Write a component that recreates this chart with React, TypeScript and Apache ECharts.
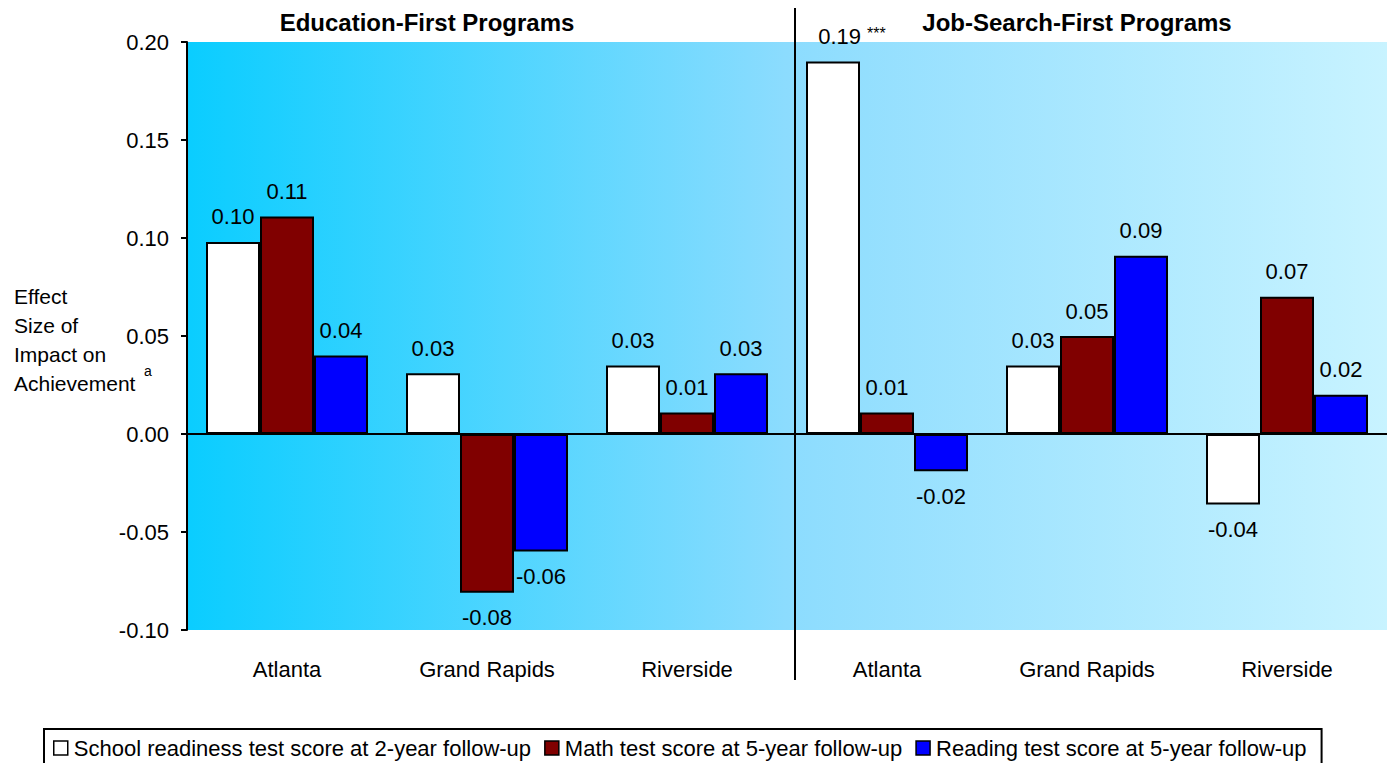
import React, { useEffect, useRef } from "react";
import * as echarts from "echarts";

const categories = ["Atlanta", "Grand Rapids", "Riverside", "Atlanta", "Grand Rapids", "Riverside"];
const seriesNames = [
  "School readiness test score at 2-year follow-up",
  "Math test score at 5-year follow-up",
  "Reading test score at 5-year follow-up",
];
const schoolReadiness = [0.098, 0.031, 0.035, 0.19, 0.035, -0.036];
const mathScores = [0.111, -0.081, 0.011, 0.011, 0.05, 0.07];
const readingScores = [0.04, -0.06, 0.031, -0.019, 0.091, 0.02];
const schoolLabels = ["0.10", "0.03", "0.03", "0.19", "0.03", "-0.04"];
const mathLabels = ["0.11", "-0.08", "0.01", "0.01", "0.05", "0.07"];
const readingLabels = ["0.04", "-0.06", "0.03", "-0.02", "0.09", "0.02"];
const yTicks = { min: -0.1, max: 0.2, interval: 0.05 };
const panelTitles = ["Education-First Programs", "Job-Search-First Programs"];
const yAxisTitle = "Effect\nSize of\nImpact on\nAchievement";

const FONT = "'Liberation Sans', Arial, sans-serif";
const FS = 22;

function buildData(values: number[], labels: string[], stars?: number) {
  return values.map((v, i) => {
    const isStar = stars === i;
    return {
      value: v,
      label: {
        position: v >= 0 ? "top" : "bottom",
        formatter: isStar ? `{n|${labels[i]}} {s|***}` : labels[i],
        offset: isStar ? [19, 0] : [0, 0],
      },
    };
  });
}

export default function App() {
  const ref = useRef<HTMLDivElement>(null);
  useEffect(() => {
    if (!ref.current) return;
    const chart = echarts.init(ref.current, null, { renderer: "svg" });
    const colors = ["#ffffff", "#800000", "#0000ff"];
    const datasets = [
      buildData(schoolReadiness, schoolLabels, 3),
      buildData(mathScores, mathLabels),
      buildData(readingScores, readingLabels),
    ];
    const series: any[] = datasets.map((d, k) => ({
      name: seriesNames[k],
      type: "bar",
      data: d,
      barGap: "0%",
      barCategoryGap: "19%",
      itemStyle: { color: colors[k], borderColor: "#000", borderWidth: 2 },
      label: {
        show: true,
        distance: 14,
        color: "#000",
        fontSize: FS,
        fontFamily: FONT,
        rich: {
          n: { fontSize: FS, fontFamily: FONT, color: "#000" },
          s: { fontSize: 16, fontFamily: FONT, color: "#000", padding: [0, 0, 6, 0] },
        },
      },
      markLine:
        k === 0
          ? {
              silent: true,
              symbol: "none",
              label: { show: false },
              lineStyle: { color: "#000", width: 2, type: "solid" },
              data: [{ yAxis: 0 }],
            }
          : undefined,
    }));

    chart.setOption({
      animation: false,
      backgroundColor: "#ffffff",
      grid: {
        left: 187,
        right: 4,
        top: 42,
        bottom: 133,
        show: true,
        borderWidth: 0,
        backgroundColor: new echarts.graphic.LinearGradient(0, 0, 1, 0, [
          { offset: 0, color: "#0acdff" },
          { offset: 0.5, color: "#8cdcfe" },
          { offset: 1, color: "#c8f3ff" },
        ]),
      },
      legend: {
        data: seriesNames,
        left: 44,
        top: 729,
        padding: [8, 15, 22, 9],
        itemGap: 13,
        itemWidth: 14,
        itemHeight: 14,
        icon: "rect",
        borderColor: "#000",
        borderWidth: 2,
        textStyle: { fontSize: FS, fontFamily: FONT, color: "#000", padding: [0, 0, 0, 1] },
        itemStyle: { borderColor: "#000", borderWidth: 1.5 },
      },
      xAxis: {
        type: "category",
        data: categories,
        position: "bottom",
        axisLine: { show: false, onZero: false },
        axisTick: { show: false },
        axisLabel: { color: "#000", fontSize: FS, fontFamily: FONT, margin: 28 },
      },
      yAxis: {
        type: "value",
        min: yTicks.min,
        max: yTicks.max,
        interval: yTicks.interval,
        splitLine: { show: false },
        axisLine: { show: true, lineStyle: { color: "#000", width: 2 } },
        axisTick: { show: true, length: 6, lineStyle: { color: "#000", width: 2 } },
        axisLabel: {
          color: "#000",
          fontSize: FS,
          fontFamily: FONT,
          margin: 18,
          formatter: (v: number) => v.toFixed(2),
        },
      },
      series,
      graphic: [
        {
          type: "line",
          shape: { x1: 795, y1: 8, x2: 795, y2: 680 },
          style: { stroke: "#000", lineWidth: 2 },
          z: 100,
        },
        {
          type: "text",
          x: 427,
          y: 22,
          style: {
            text: panelTitles[0],
            fontSize: 24,
            fontWeight: "bold",
            fontFamily: FONT,
            fill: "#000",
            align: "center",
            verticalAlign: "middle",
          },
        },
        {
          type: "text",
          x: 1077,
          y: 22,
          style: {
            text: panelTitles[1],
            fontSize: 24,
            fontWeight: "bold",
            fontFamily: FONT,
            fill: "#000",
            align: "center",
            verticalAlign: "middle",
          },
        },
        {
          type: "text",
          x: 14,
          y: 282,
          style: {
            text: yAxisTitle,
            fontSize: 21,
            lineHeight: 29,
            fontFamily: FONT,
            fill: "#000",
          },
        },
        {
          type: "text",
          x: 144,
          y: 364,
          style: { text: "a", fontSize: 14, fontFamily: FONT, fill: "#000" },
        },
      ],
    });
    return () => chart.dispose();
  }, []);
  return <div ref={ref} style={{ position: "fixed", left: 0, top: 0, width: 1391, height: 763 }} />;
}
